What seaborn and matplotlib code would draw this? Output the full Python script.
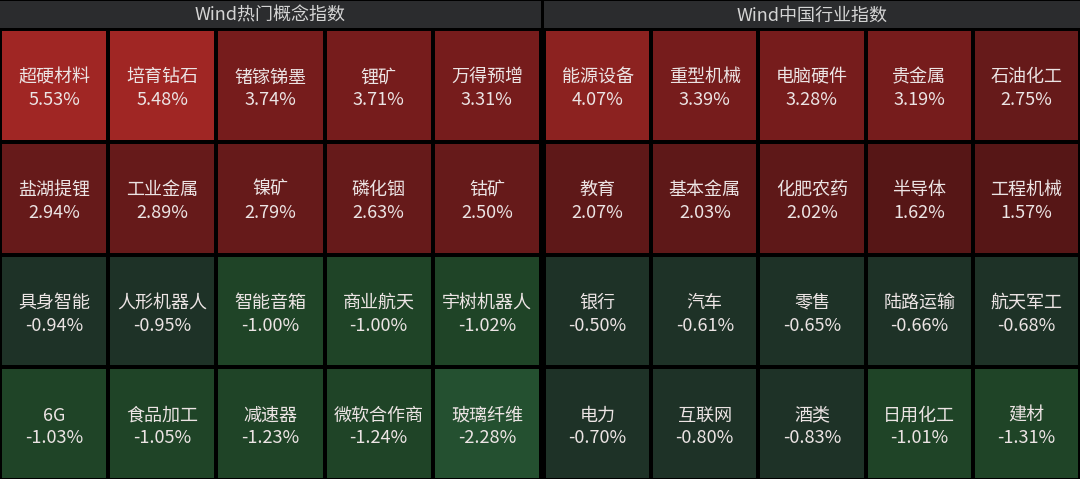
import numpy as np
import matplotlib
matplotlib.use("Agg")
import matplotlib.pyplot as plt
import seaborn as sns
from matplotlib.colors import ListedColormap, BoundaryNorm

sns.set_theme(style="white")
plt.rcParams['font.family'] = ['Noto Sans CJK SC', 'DejaVu Sans']

# ---- data ----
panel_titles = ["Wind热门概念指数", "Wind中国行业指数"]

concept_names = ["超硬材料", "培育钻石", "锗镓锑墨", "锂矿", "万得预增",
                 "盐湖提锂", "工业金属", "镍矿", "磷化铟", "钴矿",
                 "具身智能", "人形机器人", "智能音箱", "商业航天", "宇树机器人",
                 "6G", "食品加工", "减速器", "微软合作商", "玻璃纤维"]
concept_values = [5.53, 5.48, 3.74, 3.71, 3.31,
                  2.94, 2.89, 2.79, 2.63, 2.50,
                  -0.94, -0.95, -1.00, -1.00, -1.02,
                  -1.03, -1.05, -1.23, -1.24, -2.28]

industry_names = ["能源设备", "重型机械", "电脑硬件", "贵金属", "石油化工",
                  "教育", "基本金属", "化肥农药", "半导体", "工程机械",
                  "银行", "汽车", "零售", "陆路运输", "航天军工",
                  "电力", "互联网", "酒类", "日用化工", "建材"]
industry_values = [4.07, 3.39, 3.28, 3.19, 2.75,
                   2.07, 2.03, 2.02, 1.62, 1.57,
                   -0.50, -0.61, -0.65, -0.66, -0.68,
                   -0.70, -0.80, -0.83, -1.01, -1.31]

# colour buckets
bounds = [-3, -2, -0.995, 0, 2.0, 2.45, 3.0, 4.0, 5.0, 6.0]
bucket_colors = ["#245030", "#1F4427", "#1E3227",
                 "#561616", "#5E1818", "#661A1A", "#761C1C", "#8C2220", "#A02624"]
cmap = ListedColormap(bucket_colors)
norm = BoundaryNorm(bounds, cmap.N)

W, H = 1080, 479
fig = plt.figure(figsize=(W / 100, H / 100), dpi=100)
fig.patch.set_facecolor("black")

def frac(x0, y0, x1, y1):
    # pixel box (top-left origin) -> figure fraction rect
    return [x0 / W, 1 - y1 / H, (x1 - x0) / W, (y1 - y0) / H]

panels = [
    (concept_names, concept_values, (0, 541)),
    (industry_names, industry_values, (544, 1080)),
]

for (names, values, (x0, x1)), title in zip(panels, panel_titles):
    # header
    hax = fig.add_axes(frac(x0, 1, x1, 28))
    hax.set_facecolor("#2B2C2E")
    hax.set_xticks([]); hax.set_yticks([])
    for s in hax.spines.values():
        s.set_visible(False)
    hax.text(0.5, 0.47, title, ha="center", va="center", color="#D4D4D4",
             fontsize=13, transform=hax.transAxes)

    # grid
    ax = fig.add_axes(frac(x0, 29, x1, 480))
    vals = np.array(values).reshape(4, 5)
    labels = np.array([f"{n}\n{v:.2f}%" for n, v in zip(names, values)]).reshape(4, 5)
    sns.heatmap(vals, ax=ax, cmap=cmap, norm=norm, annot=labels, fmt="",
                cbar=False, linewidths=1.6, linecolor="black",
                xticklabels=False, yticklabels=False,
                annot_kws={"fontsize": 13, "color": "#ECE4E4", "linespacing": 1.35})
    # nudge annotations slightly downward (inverted y axis)
    for t in ax.texts:
        t.set_y(t.get_position()[1] + 0.03)
    ax.set_facecolor("black")

fig.savefig("out.png", dpi=100, facecolor="black")
